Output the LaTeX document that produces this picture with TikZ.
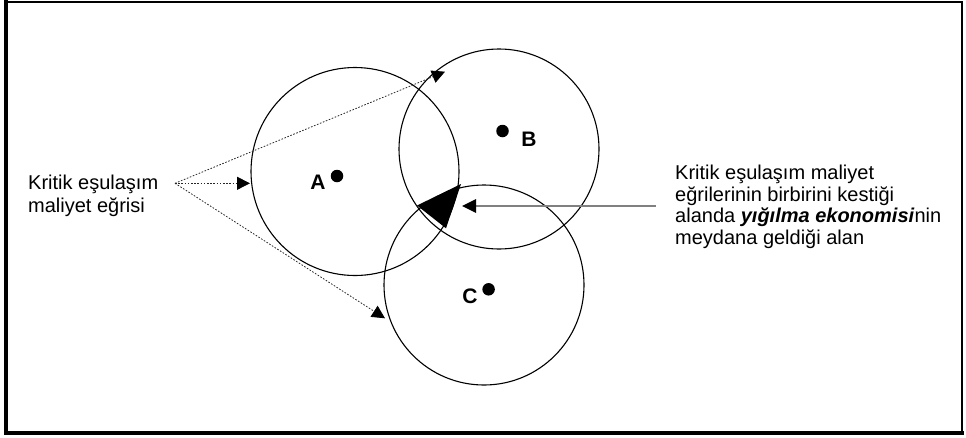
\documentclass[tikz,border=0pt]{standalone}
\usepackage{fontspec}
\setmainfont{Liberation Sans}
\usetikzlibrary{arrows.meta}
\begin{document}
\begin{tikzpicture}[x=1pt,y=-1pt,
  ring/.style={line width=1.1pt},
  spot/.style={circle,fill=black,inner sep=0pt,minimum size=12.5pt},
  letter/.style={font=\fontsize{21}{24}\selectfont\bfseries,inner sep=0pt},
  note/.style={align=left,inner sep=0pt,anchor=base west},
  dotline/.style={draw=black!85,line width=0.8pt,dash pattern=on 1.6pt off 1.6pt,
     -{Triangle[length=13pt,width=13pt,color=black]}},
  grayline/.style={draw=black!50,line width=1.4pt,
     -{Triangle[length=14pt,width=13.5pt,color=black]}},
  ]
\useasboundingbox (0,0) rectangle (966,437);
% frame
\draw[line width=2.2pt] (6,2) rectangle (962,433);
\draw[line width=4pt] (6,0) -- (6,435);
\draw[line width=4pt] (4,433) -- (964,433);
% circles
\draw[ring] (355,171.5) circle[radius=104pt];
\draw[ring] (499,149) circle[radius=100pt];
\draw[ring] (484,285) circle[radius=100pt];
% centres
\node[spot] (pa) at (337,176) {};
\node[spot] (pb) at (502.5,131) {};
\node[spot] (pc) at (488.6,289.3) {};
\node[letter] (la) at (318,182) {A};
\node[letter] (lb) at (529,139) {B};
\node[letter] (lc) at (470,296) {C};
% agglomeration area
\fill (417,205.5) -- (461,184) -- (446,228.3) -- cycle;
% left label (anchor at baseline of last line)
\node[note,font=\fontsize{20}{23.5}\selectfont] (left) at (28,212.5) {Kritik eşulaşım\\maliyet eğrisi};
\coordinate (src) at (175,183.3);
\coordinate (t1) at (445,71.7);
\coordinate (t2) at (250,183.3);
\coordinate (t3) at (385,318.3);
\draw[dotline] (src) -- (t1);
\draw[dotline] (src) -- (t2);
\draw[dotline] (src) -- (t3);
% right label (anchor at baseline of last line)
\node[note,font=\fontsize{20}{21.7}\selectfont] (right) at (675,244.4) {Kritik eşulaşım maliyet\\eğrilerinin birbirini kestiği\\alanda \textbf{\textit{yığılma ekonomisi}}nin\\meydana geldiği alan};
\coordinate (g0) at (656,206);
\coordinate (g1) at (462,206);
\draw[grayline] (g0) -- (g1);
\end{tikzpicture}
\end{document}
